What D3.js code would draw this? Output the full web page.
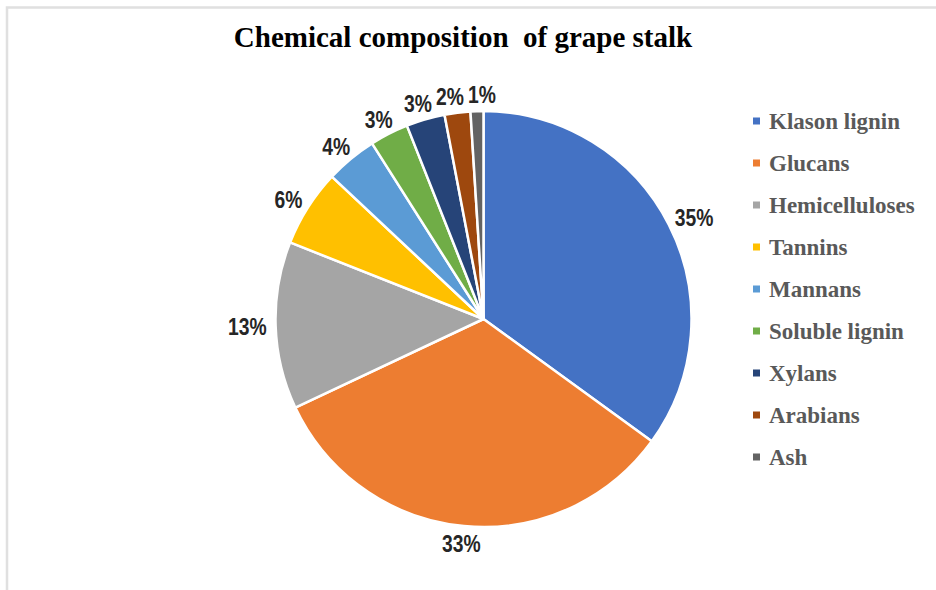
<!DOCTYPE html>
<html><head><meta charset="utf-8">
<script src="https://cdn.jsdelivr.net/npm/d3@7"></script>
<style>body{margin:0;background:#fff}svg{display:block}</style>
</head><body>
<svg id="c" width="936" height="590"></svg>
<script>
const categories = ["Klason lignin","Glucans","Hemicelluloses","Tannins","Mannans","Soluble lignin","Xylans","Arabians","Ash"];
const values = [35,33,13,6,4,3,3,2,1];
const colors = ["#4472C4","#ED7D31","#A5A5A5","#FFC000","#5B9BD5","#70AD47","#264478","#9E480E","#636363"];
const title = "Chemical composition\u00a0 of grape stalk";

const W = 936, H = 590;
const svg = d3.select("#c");

svg.append("path").attr("d", `M7,${H} L7,7.5 L${W},7.5`).attr("fill","none").attr("stroke","#e0e0e0").attr("stroke-width",2.5);

svg.append("text").attr("x",463).attr("y",47).attr("text-anchor","middle")
  .attr("font-family","'Liberation Serif','Times New Roman',serif").attr("font-weight","bold")
  .attr("font-size",29).attr("fill","#000").text(title);

const cx = 483.5, cy = 319, R = 208;
const pie = d3.pie().sort(null).value(d=>d)(values);
const arc = d3.arc().innerRadius(0).outerRadius(R);
const g = svg.append("g").attr("transform",`translate(${cx},${cy})`);
g.selectAll("path").data(pie).join("path")
  .attr("d",arc).attr("fill",(d,i)=>colors[i])
  .attr("stroke","#fff").attr("stroke-width",2.5).attr("stroke-linejoin","round");

const fmt = d3.format(".0%");
const total = d3.sum(values);
const SX = 0.84;
const lbl = g.selectAll("text.l").data(pie).join("text").attr("class","l")
  .attr("font-family","'Liberation Sans',Arial,sans-serif")
  .attr("font-weight","bold").attr("font-size",23).attr("fill","#262626")
  .attr("text-anchor","middle").attr("dominant-baseline","central")
  .text(d=>fmt(d.value/total));
const boxes = [];
lbl.each(function(d){
  const w = this.getComputedTextLength()*SX, h = 16;
  const a = (d.startAngle+d.endAngle)/2;
  const ux = Math.sin(a), uy = -Math.cos(a);
  const rr = R + 8;
  boxes.push({el:this, w, h, x: rr*ux + (w/2+1)*ux, y: rr*uy + (h/2+1)*uy + 1});
});
// resolve horizontal overlaps between labels sharing a row
for (let it=0; it<50; it++){
  for (let i=0;i<boxes.length;i++) for (let j=i+1;j<boxes.length;j++){
    const A=boxes[i], B=boxes[j];
    const ox = (A.w+B.w)/2 + 4 - Math.abs(A.x-B.x);
    const oy = (A.h+B.h)/2 - Math.abs(A.y-B.y);
    if (ox>0 && oy>0){
      const s = A.x < B.x ? -1 : 1;
      A.x += s*ox/2; B.x -= s*ox/2;
    }
  }
}
boxes.forEach(b=>d3.select(b.el).attr("transform",`translate(${b.x},${b.y}) scale(${SX},1)`));

const lg = svg.append("g");
const rowY = d3.scalePoint().domain(categories).range([121,457]);
categories.forEach((c,i)=>{
  const y = rowY(c);
  lg.append("rect").attr("x",753).attr("y",y-3.5).attr("width",7).attr("height",7).attr("fill",colors[i]);
  lg.append("text").attr("x",769).attr("y",y+8)
    .attr("font-family","'Liberation Serif','Times New Roman',serif").attr("font-weight","bold")
    .attr("font-size",23).attr("fill","#595959").text(c);
});
</script>
</body></html>
